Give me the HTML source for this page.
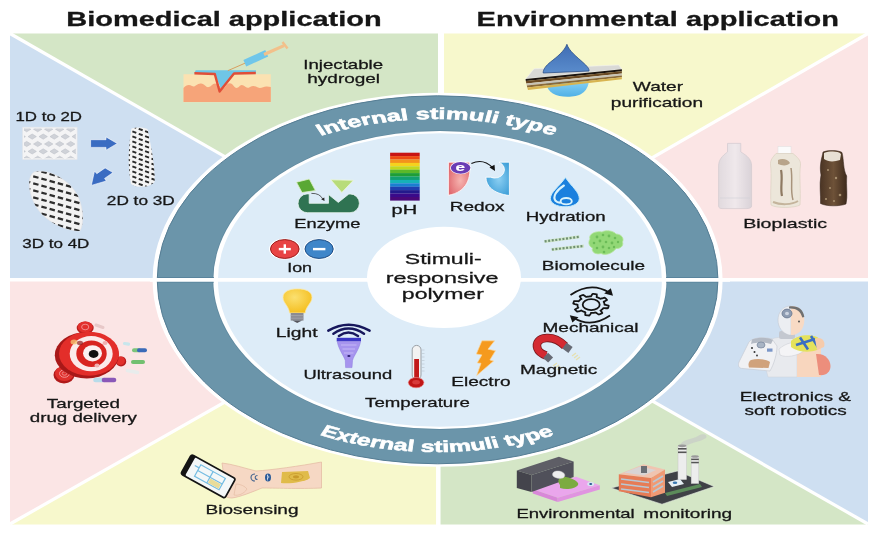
<!DOCTYPE html>
<html><head><meta charset="utf-8">
<style>
html,body{margin:0;padding:0;background:#fff;width:880px;height:533px;overflow:hidden}
svg{display:block;will-change:transform}
text{font-family:"Liberation Sans",sans-serif;fill:#161616;stroke:#161616;stroke-width:0.28}
.b{font-weight:bold}
</style></head>
<body>
<svg width="880" height="533" viewBox="0 0 880 533">
<rect x="0" y="0" width="880" height="533" fill="#fff"/>
<!-- panels -->
<g id="panels">
<polygon points="10,33.5 440,33.5 440,280" fill="#d4e6c6"/>
<polygon points="440,33.5 868,33.5 440,280" fill="#f7f8cc"/>
<polygon points="10,33.5 440,280 10,280" fill="#cedff1"/>
<polygon points="868,33.5 868,280 440,280" fill="#fbe5e5"/>
<polygon points="10,280 440,280 10,524.5" fill="#fbe5e5"/>
<polygon points="868,280 868,524.5 440,280" fill="#cedff1"/>
<polygon points="10,524.5 440,280 440,524.5" fill="#f7f8cc"/>
<polygon points="440,280 868,524.5 440,524.5" fill="#d4e6c6"/>
</g>
<g stroke="#fff" stroke-width="3.2">
<line x1="10" y1="33.5" x2="440" y2="280"/>
<line x1="868" y1="33.5" x2="440" y2="280"/>
<line x1="10" y1="524" x2="440" y2="280"/>
<line x1="868" y1="524" x2="440" y2="280"/>
<line x1="0" y1="279.8" x2="880" y2="279.8" stroke-width="3.6"/>
<line x1="441" y1="30" x2="441" y2="280" stroke-width="6"/>
<line x1="438.3" y1="280" x2="438.3" y2="530" stroke-width="4.5"/>
</g>
<!-- ring -->
<ellipse cx="437.6" cy="279.8" rx="285" ry="187" fill="#fff"/>
<ellipse cx="437.6" cy="279.8" rx="280.4" ry="184" fill="#6b95aa" stroke="#557d94" stroke-width="1"/>
<ellipse cx="439.9" cy="280" rx="227.4" ry="149.7" fill="#5f889e"/>
<ellipse cx="439.9" cy="280" rx="226.6" ry="149.1" fill="#fff"/>
<ellipse cx="439.9" cy="280" rx="222" ry="146.8" fill="#ddecf8"/>
<g stroke="#56809a" stroke-width="0.9"><line x1="158" y1="277.6" x2="214" y2="277.6"/><line x1="158" y1="282" x2="214" y2="282"/><line x1="666" y1="277.6" x2="718" y2="277.6"/><line x1="666" y1="282" x2="718" y2="282"/></g>
<line x1="150" y1="279.8" x2="730" y2="279.8" stroke="#fff" stroke-width="3.8"/>
<ellipse cx="444" cy="277.4" rx="77" ry="50.6" fill="#fff"/>
<!-- ICONS -->
<g id="enzyme">
<path d="M307,193.9 L309.2,193.9 L309.2,203.3 L328.5,203.3 L328.5,194.5 L338.3,202.4 L348.6,194.2 L350,193.9 A9.4,9.4 0 0 1 350,212.7 L307.8,212.7 A9.4,9.4 0 0 1 307,193.9 Z" fill="#2f7352" stroke="#e8f4ee" stroke-width="0.8"/>
<polygon points="296.5,182.2 309.3,179 315.4,190.6 302,192.5" fill="#5aa834" stroke="#dff0c8" stroke-width="0.8"/>
<polygon points="330.8,179.8 353.4,180.3 341.8,192.5" fill="#b8dc7a" stroke="#eef6dc" stroke-width="0.8"/>
<path d="M311.4,193.4 Q320,193 323,199.5" fill="none" stroke="#222" stroke-width="0.7"/>
<polygon points="321.2,199.3 324.5,201 324.3,197.6" fill="#222"/>
</g>
<g id="ph">
<rect x="390.1" y="152.7" width="29.6" height="3.5" fill="#c81414"/>
<rect x="390.1" y="156.1" width="29.6" height="3.5" fill="#ee4a12"/>
<rect x="390.1" y="159.5" width="29.6" height="3.5" fill="#f3921c"/>
<rect x="390.1" y="162.9" width="29.6" height="3.5" fill="#f5d21e"/>
<rect x="390.1" y="166.3" width="29.6" height="3.5" fill="#c2d81e"/>
<rect x="390.1" y="169.7" width="29.6" height="3.5" fill="#5cb82a"/>
<rect x="390.1" y="173.1" width="29.6" height="3.5" fill="#1f9e36"/>
<rect x="390.1" y="176.5" width="29.6" height="3.5" fill="#12a070"/>
<rect x="390.1" y="179.9" width="29.6" height="3.5" fill="#16b2b8"/>
<rect x="390.1" y="183.3" width="29.6" height="3.5" fill="#1a7fd0"/>
<rect x="390.1" y="186.7" width="29.6" height="3.5" fill="#1e40b0"/>
<rect x="390.1" y="190.1" width="29.6" height="3.5" fill="#231a8c"/>
<rect x="390.1" y="193.5" width="29.6" height="3.6" fill="#3a0a8a"/>
<rect x="390.1" y="197" width="29.6" height="3.6" fill="#4a0878"/>
</g>
<g id="ion">
<ellipse cx="284.8" cy="249" rx="15.8" ry="10.6" fill="#fff"/>
<ellipse cx="284.8" cy="249" rx="14.3" ry="9.4" fill="#e84444" stroke="#9a1c1c" stroke-width="1"/>
<rect x="278.8" y="247.9" width="12" height="2.4" fill="#fff"/>
<rect x="283.6" y="244.3" width="2.4" height="9.4" fill="#fff"/>
<ellipse cx="319.1" cy="249" rx="15.6" ry="10.6" fill="#fff"/>
<ellipse cx="319.1" cy="249" rx="14.1" ry="9.4" fill="#3f86c9" stroke="#1d4c84" stroke-width="1"/>
<rect x="313" y="247.9" width="12.4" height="2.4" fill="#fff"/>
</g>
<g id="redox">
<defs>
<radialGradient id="gRed" cx="0.55" cy="0.55" r="0.6"><stop offset="0" stop-color="#f6b4b0"/><stop offset="1" stop-color="#e06a70"/></radialGradient>
<radialGradient id="gBlue" cx="0.55" cy="0.5" r="0.6"><stop offset="0" stop-color="#8ccff2"/><stop offset="1" stop-color="#3e9fd8"/></radialGradient>
</defs>
<path d="M448.4,162.2 L469.5,162.2 C471.5,178 467,192 448.4,195.3 Z" fill="url(#gRed)" stroke="#fff" stroke-width="0.8"/>
<ellipse cx="460.6" cy="167.8" rx="10.6" ry="6.4" fill="#fff"/>
<ellipse cx="460.6" cy="167.8" rx="9.8" ry="5.9" fill="#6a3cb4"/>
<text x="455.6" y="171.4" font-size="11" class="b" style="fill:#fff;stroke:#fff;stroke-width:0.2" textLength="9.5" lengthAdjust="spacingAndGlyphs">e</text>
<path d="M471.4,163.6 Q483,158 492.5,167.5" fill="none" stroke="#111" stroke-width="1.1"/>
<polygon points="489.5,167.5 495,171 494.5,164.8" fill="#111"/>
<path d="M499,162.2 L509.4,162.2 L509.4,195.5 C493,193.5 486,186 486,177.2 L490.5,177.2 A7,6 0 0 0 499,162.2 Z" fill="url(#gBlue)" stroke="#fff" stroke-width="0.8"/>
</g>
<g id="hydration">
<path d="M565.4,177.5 C572,187 579.3,192 579.3,198.5 C579.3,203.5 573,206.8 565,206.8 C557,206.8 550.4,203.5 550.4,198.5 C550.4,192 559,187 565.4,177.5 Z" fill="#1a80de" stroke="#c8ecfa" stroke-width="1"/>
<path d="M563.9,185.5 C556,190.5 552.5,197 555.5,200.8 C557,202.3 559,202.8 560.5,202.5" fill="none" stroke="#d8f2fc" stroke-width="2.1" stroke-linecap="round"/>
<ellipse cx="566.2" cy="201.2" rx="5.6" ry="3.2" fill="none" stroke="#d8f2fc" stroke-width="1.9"/>
</g>
<g id="biomolecule">
<line x1="544.6" y1="241.4" x2="579.4" y2="236.8" stroke="#cfe6c8" stroke-width="3"/>
<line x1="544.6" y1="241.4" x2="579.4" y2="236.8" stroke="#6f8f72" stroke-width="2.2" stroke-dasharray="2,1.6"/>
<line x1="551.8" y1="249.5" x2="584" y2="246" stroke="#cfe6c8" stroke-width="3"/>
<line x1="551.8" y1="249.5" x2="584" y2="246" stroke="#6f8f72" stroke-width="2.2" stroke-dasharray="2,1.6"/>
<path d="M590,239 C588,234 596,230.5 602,232 C606,229.5 614,231 616,234 C621,234 624.5,238 622.5,242 C624,246 620,249 616,248.5 C613,253 606,256 601,253.5 C596,255 591,252 592.5,248 C588.5,246 588,242 590,239 Z" fill="#92d876" stroke="#b8e6a0" stroke-width="0.8"/>
<g fill="#6cbc58">
<circle cx="597" cy="237" r="1.4"/><circle cx="603" cy="235" r="1.3"/><circle cx="609" cy="236" r="1.4"/><circle cx="615" cy="238" r="1.3"/>
<circle cx="594" cy="243" r="1.3"/><circle cx="600" cy="241" r="1.4"/><circle cx="606" cy="242" r="1.3"/><circle cx="612" cy="243" r="1.4"/><circle cx="618" cy="242" r="1.2"/>
<circle cx="597" cy="248" r="1.3"/><circle cx="603" cy="247" r="1.4"/><circle cx="609" cy="248" r="1.3"/><circle cx="614" cy="247" r="1.2"/><circle cx="604" cy="252" r="1.3"/>
</g>
</g>
<g id="light">
<defs><radialGradient id="gBulb" cx="0.4" cy="0.35" r="0.7"><stop offset="0" stop-color="#fbe070"/><stop offset="1" stop-color="#f4bd1c"/></radialGradient></defs>
<path d="M289.5,313 C289,306 283,303 283,297.5 C283,291.5 289,288.9 297.5,288.9 C306,288.9 312,291.5 312,297.5 C312,303 306,306 305.2,313 Z" fill="url(#gBulb)" stroke="#fbe9a8" stroke-width="0.8"/>
<rect x="290.7" y="313" width="12.8" height="7.6" fill="#8c8c92"/>
<line x1="290.7" y1="315.6" x2="303.5" y2="315.6" stroke="#b0b0b8" stroke-width="0.6"/>
<line x1="290.7" y1="318.2" x2="303.5" y2="318.2" stroke="#b0b0b8" stroke-width="0.6"/>
<polygon points="292.5,320.6 302,320.6 297.2,323" fill="#55555c"/>
</g>
<g id="ultrasound" fill="none" stroke="#17175c" stroke-width="2.5" stroke-linecap="round">
<path d="M328.3,330.7 Q348.4,319 369.6,330.7"/>
<path d="M333.4,333.7 Q348.4,323.5 364,333.7"/>
<path d="M338.9,335.9 Q348.4,329 358,335.9"/>
</g>
<g id="probe">
<rect x="336.7" y="337.8" width="24.3" height="3.6" fill="#3a36c4"/>
<path d="M337.2,341.4 L360.6,341.4 C359,350 354,355 352.5,360.5 L352,367.6 L345.6,367.6 L345.3,360.5 C343.5,355 338.8,350 337.2,341.4 Z" fill="#a694ee" stroke="#8a78de" stroke-width="0.5"/>
<path d="M341,345 L356.5,345 M342.5,349 L355,349 M344,353 L353.5,353" stroke="#c4b8f6" stroke-width="1"/>
<ellipse cx="348.9" cy="356" rx="1.6" ry="1.1" fill="#2a2070"/>
</g>
<g id="thermo">
<rect x="412.2" y="345.4" width="8.8" height="34" rx="4.4" fill="#f2f2f2" stroke="#9aa0a6" stroke-width="1"/>
<rect x="414.2" y="359" width="4.8" height="20" fill="#c21a1a"/>
<ellipse cx="416.1" cy="382.6" rx="7.8" ry="5.2" fill="#c01616" stroke="#e88" stroke-width="0.6"/>
<ellipse cx="416.1" cy="382.2" rx="3.8" ry="2.2" fill="#d83a3a"/>
<g stroke="#b8c4cc" stroke-width="0.6">
<line x1="421.5" y1="350" x2="424.5" y2="350"/><line x1="421.5" y1="353.5" x2="424.5" y2="353.5"/><line x1="421.5" y1="357" x2="424.5" y2="357"/><line x1="421.5" y1="360.5" x2="424.5" y2="360.5"/><line x1="421.5" y1="364" x2="424.5" y2="364"/><line x1="421.5" y1="367.5" x2="424.5" y2="367.5"/><line x1="421.5" y1="371" x2="424.5" y2="371"/>
</g>
</g>
<g id="electro">
<polygon points="481.9,340.8 494.6,340.8 488,349.2 495.5,350.7 489.9,360 493.6,361 476.7,375.5 481,363.3 477.2,362.9 481.9,354.9 476.3,354" fill="#f59a1e" stroke="#fbd9a0" stroke-width="0.7"/>
</g>
<g id="magnet">
<path d="M565,346 C558,339 551,337.5 546,338 C539,338.5 535.5,343 537.5,348.5 C538.5,351.5 542,354 546,355.5" fill="none" stroke="#7a1a1f" stroke-width="8.5"/>
<path d="M565,346 C558,339 551,337.5 546,338 C539,338.5 535.5,343 537.5,348.5 C538.5,351.5 542,354 546,355.5" fill="none" stroke="#d42a32" stroke-width="6.8"/>
<line x1="564.5" y1="345.6" x2="570.5" y2="350" stroke="#666a74" stroke-width="7.2"/>
<line x1="545.6" y1="355.3" x2="550.6" y2="360" stroke="#666a74" stroke-width="7.2"/>
<g stroke="#e6e0b0" stroke-width="1.3">
<line x1="572" y1="356" x2="576" y2="353"/><line x1="574" y1="358" x2="578" y2="355"/><line x1="576" y1="360" x2="580" y2="357"/>
<line x1="553" y1="366" x2="557" y2="363"/><line x1="555" y1="368" x2="559" y2="365"/><line x1="557" y1="370" x2="561" y2="367"/>
</g>
</g>
<g id="mech" fill="none" stroke="#151515" stroke-width="1.8">
<path d="M608.45,306.87 L608.39,307.03 L608.33,307.20 L608.26,307.37 L608.19,307.53 L608.11,307.70 L608.03,307.86 L607.95,308.02 L607.86,308.19 L607.28,308.24 L606.52,308.25 L605.77,308.24 L605.01,308.21 L604.27,308.18 L603.53,308.12 L603.26,308.20 L603.17,308.31 L603.08,308.43 L602.98,308.55 L602.88,308.66 L602.78,308.77 L602.67,308.89 L602.56,309.00 L602.45,309.11 L602.34,309.22 L602.22,309.33 L602.10,309.43 L601.98,309.54 L601.85,309.65 L601.72,309.75 L601.59,309.85 L601.46,309.95 L601.32,310.05 L601.19,310.15 L601.04,310.25 L600.90,310.35 L600.75,310.44 L600.61,310.53 L600.82,310.85 L601.15,311.26 L601.46,311.68 L601.75,312.11 L602.03,312.54 L602.28,312.98 L602.19,313.18 L601.97,313.28 L601.75,313.39 L601.52,313.49 L601.30,313.59 L601.07,313.69 L600.84,313.79 L600.60,313.88 L600.36,313.97 L600.13,314.06 L599.88,314.15 L599.64,314.23 L599.40,314.31 L599.15,314.39 L598.90,314.47 L598.42,314.25 L597.88,313.93 L597.36,313.59 L596.85,313.25 L596.37,312.90 L595.90,312.55 L595.64,312.48 L595.44,312.53 L595.23,312.57 L595.03,312.61 L594.83,312.65 L594.62,312.68 L594.42,312.72 L594.21,312.75 L594.01,312.78 L593.80,312.80 L593.59,312.83 L593.38,312.85 L593.17,312.88 L592.96,312.90 L592.75,312.91 L592.54,312.93 L592.33,312.94 L592.12,312.96 L591.91,312.97 L591.69,312.97 L591.48,312.98 L591.27,312.98 L591.06,312.98 L590.84,313.30 L590.60,313.74 L590.34,314.17 L590.05,314.59 L589.75,315.02 L589.42,315.44 L589.12,315.54 L588.84,315.52 L588.57,315.50 L588.29,315.47 L588.01,315.45 L587.74,315.42 L587.46,315.38 L587.19,315.35 L586.92,315.31 L586.65,315.27 L586.38,315.23 L586.11,315.18 L585.84,315.13 L585.57,315.08 L585.31,315.03 L585.22,314.67 L585.21,314.20 L585.23,313.74 L585.26,313.28 L585.32,312.82 L585.41,312.37 L585.29,312.21 L585.10,312.15 L584.91,312.10 L584.72,312.04 L584.53,311.98 L584.35,311.91 L584.16,311.85 L583.98,311.78 L583.80,311.71 L583.62,311.64 L583.44,311.57 L583.27,311.50 L583.09,311.42 L582.92,311.35 L582.75,311.27 L582.59,311.19 L582.42,311.11 L582.26,311.02 L582.10,310.94 L581.94,310.85 L581.78,310.76 L581.63,310.67 L581.47,310.58 L580.95,310.71 L580.28,310.92 L579.60,311.11 L578.90,311.29 L578.20,311.45 L577.48,311.61 L577.16,311.55 L576.98,311.42 L576.81,311.28 L576.64,311.14 L576.48,311.00 L576.32,310.86 L576.16,310.72 L576.01,310.58 L575.86,310.43 L575.72,310.29 L575.58,310.14 L575.44,309.99 L575.30,309.84 L575.17,309.69 L575.05,309.54 L575.40,309.25 L575.93,308.91 L576.48,308.59 L577.03,308.28 L577.61,307.99 L578.19,307.70 L578.29,307.54 L578.22,307.42 L578.15,307.29 L578.09,307.17 L578.03,307.04 L577.97,306.92 L577.91,306.79 L577.86,306.67 L577.81,306.54 L577.76,306.41 L577.72,306.29 L577.68,306.16 L577.65,306.03 L577.62,305.90 L577.59,305.77 L577.56,305.64 L577.54,305.51 L577.52,305.38 L577.50,305.25 L577.49,305.13 L577.48,305.00 L577.47,304.86 L577.47,304.73 L576.95,304.60 L576.24,304.45 L575.54,304.29 L574.84,304.12 L574.15,303.93 L573.46,303.73 L573.30,303.55 L573.33,303.38 L573.37,303.21 L573.41,303.04 L573.45,302.87 L573.50,302.70 L573.55,302.53 L573.61,302.37 L573.67,302.20 L573.74,302.03 L573.81,301.87 L573.89,301.70 L573.97,301.54 L574.05,301.38 L574.14,301.21 L574.72,301.16 L575.48,301.15 L576.23,301.16 L576.99,301.19 L577.73,301.22 L578.47,301.28 L578.74,301.20 L578.83,301.09 L578.92,300.97 L579.02,300.85 L579.12,300.74 L579.22,300.63 L579.33,300.51 L579.44,300.40 L579.55,300.29 L579.66,300.18 L579.78,300.07 L579.90,299.97 L580.02,299.86 L580.15,299.75 L580.28,299.65 L580.41,299.55 L580.54,299.45 L580.68,299.35 L580.81,299.25 L580.96,299.15 L581.10,299.05 L581.25,298.96 L581.39,298.87 L581.18,298.55 L580.85,298.14 L580.54,297.72 L580.25,297.29 L579.97,296.86 L579.72,296.42 L579.81,296.22 L580.03,296.12 L580.25,296.01 L580.48,295.91 L580.70,295.81 L580.93,295.71 L581.16,295.61 L581.40,295.52 L581.64,295.43 L581.87,295.34 L582.12,295.25 L582.36,295.17 L582.60,295.09 L582.85,295.01 L583.10,294.93 L583.58,295.15 L584.12,295.47 L584.64,295.81 L585.15,296.15 L585.63,296.50 L586.10,296.85 L586.36,296.92 L586.56,296.87 L586.77,296.83 L586.97,296.79 L587.17,296.75 L587.38,296.72 L587.58,296.68 L587.79,296.65 L587.99,296.62 L588.20,296.60 L588.41,296.57 L588.62,296.55 L588.83,296.52 L589.04,296.50 L589.25,296.49 L589.46,296.47 L589.67,296.46 L589.88,296.44 L590.09,296.43 L590.31,296.43 L590.52,296.42 L590.73,296.42 L590.94,296.42 L591.16,296.10 L591.40,295.66 L591.66,295.23 L591.95,294.81 L592.25,294.38 L592.58,293.96 L592.88,293.86 L593.16,293.88 L593.43,293.90 L593.71,293.93 L593.99,293.95 L594.26,293.98 L594.54,294.02 L594.81,294.05 L595.08,294.09 L595.35,294.13 L595.62,294.17 L595.89,294.22 L596.16,294.27 L596.43,294.32 L596.69,294.37 L596.78,294.73 L596.79,295.20 L596.77,295.66 L596.74,296.12 L596.68,296.58 L596.59,297.03 L596.71,297.19 L596.90,297.25 L597.09,297.30 L597.28,297.36 L597.47,297.42 L597.65,297.49 L597.84,297.55 L598.02,297.62 L598.20,297.69 L598.38,297.76 L598.56,297.83 L598.73,297.90 L598.91,297.98 L599.08,298.05 L599.25,298.13 L599.41,298.21 L599.58,298.29 L599.74,298.38 L599.90,298.46 L600.06,298.55 L600.22,298.64 L600.37,298.73 L600.53,298.82 L601.05,298.69 L601.72,298.48 L602.40,298.29 L603.10,298.11 L603.80,297.95 L604.52,297.79 L604.84,297.85 L605.02,297.98 L605.19,298.12 L605.36,298.26 L605.52,298.40 L605.68,298.54 L605.84,298.68 L605.99,298.82 L606.14,298.97 L606.28,299.11 L606.42,299.26 L606.56,299.41 L606.70,299.56 L606.83,299.71 L606.95,299.86 L606.60,300.15 L606.07,300.49 L605.52,300.81 L604.97,301.12 L604.39,301.41 L603.81,301.70 L603.71,301.86 L603.78,301.98 L603.85,302.11 L603.91,302.23 L603.97,302.36 L604.03,302.48 L604.09,302.61 L604.14,302.73 L604.19,302.86 L604.24,302.99 L604.28,303.11 L604.32,303.24 L604.35,303.37 L604.38,303.50 L604.41,303.63 L604.44,303.76 L604.46,303.89 L604.48,304.02 L604.50,304.15 L604.51,304.27 L604.52,304.40 L604.53,304.54 L604.53,304.67 L605.05,304.80 L605.76,304.95 L606.46,305.11 L607.16,305.28 L607.85,305.47 L608.54,305.67 L608.70,305.85 L608.67,306.02 L608.63,306.19 L608.59,306.36 L608.55,306.53 L608.50,306.70 Z"/>
<ellipse cx="591.2" cy="304.7" rx="8.5" ry="5.5"/>
<path d="M570.5,295 Q591,281 609.5,292.8"/>
<path d="M610,315.5 Q591,328.5 573.5,317.8"/>
</g>
<polygon points="604.2,293.6 613,295.8 610.8,288.2" fill="#151515"/>
<polygon points="578.5,317.2 569.8,315.2 572.4,322.4" fill="#151515"/>
<!-- OUTER ICONS -->
<g id="hydrogel">
<rect x="183.5" y="74.2" width="87.3" height="28" fill="#fbe2b2"/>
<path d="M183.5,88 C186,85 189,84 192,86 C195,88 197,83 201,83.5 C205,84 206,88 209,87 C212,86 213,82 217,84 C220,86 222,90 225,87 C227,84 229,82 232,84 C234,86 235,89 238,87.5 C240,86 241,84 243.5,85.5 C246,87 247,89 250,87 C253,85 255,86 258,87.5 C261,89 264,86 267,86.5 L270.8,87 L270.8,102.1 L183.5,102.1 Z" fill="#f6a479"/>
<path d="M195.7,70.3 L256,70.3 L255.8,73 L234,73.5 L221,88.5 L214.8,74 L194.4,73.2 Z" fill="#6fc6e6"/>
<path d="M194.4,73.2 L214.8,74 L219.6,91.5 L234,73.5 L255.8,73" fill="none" stroke="#e04e38" stroke-width="2.4" stroke-linejoin="round"/>
<line x1="227.8" y1="70.7" x2="245" y2="63.2" stroke="#d8a060" stroke-width="1"/>
<line x1="244.8" y1="63.2" x2="266.7" y2="53.3" stroke="#6fc6ea" stroke-width="7"/>
<line x1="264" y1="54.5" x2="284" y2="45.6" stroke="#f2c08a" stroke-width="3.2"/>
<line x1="282.5" y1="42" x2="287.5" y2="48.5" stroke="#f2c08a" stroke-width="2.5"/>
</g>
<g id="mesh">
<rect x="22.7" y="127.2" width="54.4" height="32.3" fill="#f4f4f5" stroke="#e4e6ea" stroke-width="0.6"/>
<clipPath id="clipMesh"><rect x="24" y="128.5" width="51.8" height="29.7"/></clipPath>
<g clip-path="url(#clipMesh)" fill="#cfd2d8" stroke="#b8bcc4" stroke-width="0.5">
<path d="M17.0,121.8 L21.2,119.2 L25.4,121.8 L21.2,124.4 Z"/>
<path d="M28.0,121.8 L32.2,119.2 L36.4,121.8 L32.2,124.4 Z"/>
<path d="M39.0,121.8 L43.2,119.2 L47.4,121.8 L43.2,124.4 Z"/>
<path d="M50.0,121.8 L54.2,119.2 L58.4,121.8 L54.2,124.4 Z"/>
<path d="M61.0,121.8 L65.2,119.2 L69.4,121.8 L65.2,124.4 Z"/>
<path d="M72.0,121.8 L76.2,119.2 L80.4,121.8 L76.2,124.4 Z"/>
<path d="M83.0,121.8 L87.2,119.2 L91.4,121.8 L87.2,124.4 Z"/>
<path d="M94.0,121.8 L98.2,119.2 L102.4,121.8 L98.2,124.4 Z"/>
<path d="M11.5,129.2 L15.7,126.6 L19.9,129.2 L15.7,131.8 Z"/>
<path d="M22.5,129.2 L26.7,126.6 L30.9,129.2 L26.7,131.8 Z"/>
<path d="M33.5,129.2 L37.7,126.6 L41.9,129.2 L37.7,131.8 Z"/>
<path d="M44.5,129.2 L48.7,126.6 L52.9,129.2 L48.7,131.8 Z"/>
<path d="M55.5,129.2 L59.7,126.6 L63.9,129.2 L59.7,131.8 Z"/>
<path d="M66.5,129.2 L70.7,126.6 L74.9,129.2 L70.7,131.8 Z"/>
<path d="M77.5,129.2 L81.7,126.6 L85.9,129.2 L81.7,131.8 Z"/>
<path d="M88.5,129.2 L92.7,126.6 L96.9,129.2 L92.7,131.8 Z"/>
<path d="M17.0,136.6 L21.2,134.0 L25.4,136.6 L21.2,139.2 Z"/>
<path d="M28.0,136.6 L32.2,134.0 L36.4,136.6 L32.2,139.2 Z"/>
<path d="M39.0,136.6 L43.2,134.0 L47.4,136.6 L43.2,139.2 Z"/>
<path d="M50.0,136.6 L54.2,134.0 L58.4,136.6 L54.2,139.2 Z"/>
<path d="M61.0,136.6 L65.2,134.0 L69.4,136.6 L65.2,139.2 Z"/>
<path d="M72.0,136.6 L76.2,134.0 L80.4,136.6 L76.2,139.2 Z"/>
<path d="M83.0,136.6 L87.2,134.0 L91.4,136.6 L87.2,139.2 Z"/>
<path d="M94.0,136.6 L98.2,134.0 L102.4,136.6 L98.2,139.2 Z"/>
<path d="M11.5,144.0 L15.7,141.4 L19.9,144.0 L15.7,146.6 Z"/>
<path d="M22.5,144.0 L26.7,141.4 L30.9,144.0 L26.7,146.6 Z"/>
<path d="M33.5,144.0 L37.7,141.4 L41.9,144.0 L37.7,146.6 Z"/>
<path d="M44.5,144.0 L48.7,141.4 L52.9,144.0 L48.7,146.6 Z"/>
<path d="M55.5,144.0 L59.7,141.4 L63.9,144.0 L59.7,146.6 Z"/>
<path d="M66.5,144.0 L70.7,141.4 L74.9,144.0 L70.7,146.6 Z"/>
<path d="M77.5,144.0 L81.7,141.4 L85.9,144.0 L81.7,146.6 Z"/>
<path d="M88.5,144.0 L92.7,141.4 L96.9,144.0 L92.7,146.6 Z"/>
<path d="M17.0,151.4 L21.2,148.8 L25.4,151.4 L21.2,154.0 Z"/>
<path d="M28.0,151.4 L32.2,148.8 L36.4,151.4 L32.2,154.0 Z"/>
<path d="M39.0,151.4 L43.2,148.8 L47.4,151.4 L43.2,154.0 Z"/>
<path d="M50.0,151.4 L54.2,148.8 L58.4,151.4 L54.2,154.0 Z"/>
<path d="M61.0,151.4 L65.2,148.8 L69.4,151.4 L65.2,154.0 Z"/>
<path d="M72.0,151.4 L76.2,148.8 L80.4,151.4 L76.2,154.0 Z"/>
<path d="M83.0,151.4 L87.2,148.8 L91.4,151.4 L87.2,154.0 Z"/>
<path d="M94.0,151.4 L98.2,148.8 L102.4,151.4 L98.2,154.0 Z"/>
<path d="M11.5,158.8 L15.7,156.2 L19.9,158.8 L15.7,161.4 Z"/>
<path d="M22.5,158.8 L26.7,156.2 L30.9,158.8 L26.7,161.4 Z"/>
<path d="M33.5,158.8 L37.7,156.2 L41.9,158.8 L37.7,161.4 Z"/>
<path d="M44.5,158.8 L48.7,156.2 L52.9,158.8 L48.7,161.4 Z"/>
<path d="M55.5,158.8 L59.7,156.2 L63.9,158.8 L59.7,161.4 Z"/>
<path d="M66.5,158.8 L70.7,156.2 L74.9,158.8 L70.7,161.4 Z"/>
<path d="M77.5,158.8 L81.7,156.2 L85.9,158.8 L81.7,161.4 Z"/>
<path d="M88.5,158.8 L92.7,156.2 L96.9,158.8 L92.7,161.4 Z"/>
<path d="M17.0,166.2 L21.2,163.6 L25.4,166.2 L21.2,168.8 Z"/>
<path d="M28.0,166.2 L32.2,163.6 L36.4,166.2 L32.2,168.8 Z"/>
<path d="M39.0,166.2 L43.2,163.6 L47.4,166.2 L43.2,168.8 Z"/>
<path d="M50.0,166.2 L54.2,163.6 L58.4,166.2 L54.2,168.8 Z"/>
<path d="M61.0,166.2 L65.2,163.6 L69.4,166.2 L65.2,168.8 Z"/>
<path d="M72.0,166.2 L76.2,163.6 L80.4,166.2 L76.2,168.8 Z"/>
<path d="M83.0,166.2 L87.2,163.6 L91.4,166.2 L87.2,168.8 Z"/>
<path d="M94.0,166.2 L98.2,163.6 L102.4,166.2 L98.2,168.8 Z"/>
</g>
</g>
<g id="arrows" fill="#3a6cc2" stroke="#fff" stroke-width="0.6">
<polygon points="90.6,139.7 106,139.7 106,136.9 117.3,143.5 106,150.2 106,147.4 90.6,147.4"/>
<polygon points="113,172.6 104.6,178.4 106.3,181 91.3,185.4 94.5,171 96.8,173.7 105.1,167.9"/>
</g>
<g id="tube">
<clipPath id="clipTube"><path d="M131.5,128.4 C137,127 144,127 147.5,129 C152,150 155,168 154.6,182 C150,187.5 137,188.5 131,184 C128,168 127.8,150 131.5,128.4 Z"/></clipPath>
<path d="M131.5,128.4 C137,127 144,127 147.5,129 C152,150 155,168 154.6,182 C150,187.5 137,188.5 131,184 C128,168 127.8,150 131.5,128.4 Z" fill="#f4f4f4"/>
<g clip-path="url(#clipTube)" stroke="#2a2a2a" stroke-width="1.9" stroke-dasharray="4.2,2.6">
<line x1="126" y1="124.0" x2="158" y2="136.0"/>
<line x1="126" y1="129.0" x2="158" y2="141.0"/>
<line x1="126" y1="134.0" x2="158" y2="146.0"/>
<line x1="126" y1="139.0" x2="158" y2="151.0"/>
<line x1="126" y1="144.0" x2="158" y2="156.0"/>
<line x1="126" y1="149.0" x2="158" y2="161.0"/>
<line x1="126" y1="154.0" x2="158" y2="166.0"/>
<line x1="126" y1="159.0" x2="158" y2="171.0"/>
<line x1="126" y1="164.0" x2="158" y2="176.0"/>
<line x1="126" y1="169.0" x2="158" y2="181.0"/>
<line x1="126" y1="174.0" x2="158" y2="186.0"/>
<line x1="126" y1="179.0" x2="158" y2="191.0"/>
<line x1="126" y1="184.0" x2="158" y2="196.0"/>
</g>
</g>
<g id="spiral">
<clipPath id="clipSpiral"><path d="M34,172 C48,168 70,180 78,196 C84,210 84,224 80,231 C66,231 46,222 37,208 C29,196 26,177 34,172 Z"/></clipPath>
<path d="M34,172 C48,168 70,180 78,196 C84,210 84,224 80,231 C66,231 46,222 37,208 C29,196 26,177 34,172 Z" fill="#f2f2f2" stroke="#e0e0e4" stroke-width="0.6"/>
<g clip-path="url(#clipSpiral)" stroke="#2e2e2e" stroke-width="2.3" stroke-dasharray="5.5,3">
<line x1="25" y1="160.0" x2="90" y2="178.0"/>
<line x1="25" y1="167.0" x2="90" y2="185.0"/>
<line x1="25" y1="174.0" x2="90" y2="192.0"/>
<line x1="25" y1="181.0" x2="90" y2="199.0"/>
<line x1="25" y1="188.0" x2="90" y2="206.0"/>
<line x1="25" y1="195.0" x2="90" y2="213.0"/>
<line x1="25" y1="202.0" x2="90" y2="220.0"/>
<line x1="25" y1="209.0" x2="90" y2="227.0"/>
<line x1="25" y1="216.0" x2="90" y2="234.0"/>
<line x1="25" y1="223.0" x2="90" y2="241.0"/>
<line x1="25" y1="230.0" x2="90" y2="248.0"/>
</g>
</g>
<g id="water">
<defs>
<linearGradient id="gDropTop" x1="0" y1="0" x2="0" y2="1"><stop offset="0" stop-color="#3f6db4"/><stop offset="1" stop-color="#5a8ccc"/></linearGradient>
<linearGradient id="gDropBot" x1="0" y1="0" x2="0" y2="1"><stop offset="0" stop-color="#8ad4f6"/><stop offset="1" stop-color="#4fb0e6"/></linearGradient>
</defs>
<path d="M546,82 C547,93 556,96.8 567.5,96.8 C579,96.8 588,93 589,80 Z" fill="url(#gDropBot)"/>
<polygon points="525.6,79 534,68.8 618.8,64.9 621.9,69.3" fill="#d9d9d6" stroke="#f4f4f0" stroke-width="0.6"/>
<path d="M566.9,44.3 C569,51 577,57 583,62.5 C587,66 589.5,69 589,71 L543.2,73 C543,69.5 546,65.5 550.5,62 C557,57 564.5,51 566.9,44.3 Z" fill="url(#gDropTop)" stroke="#2c4f86" stroke-width="0.8"/>
<polygon points="525.6,79 621.9,69.3 621.9,71.2 525.8,81" fill="#1b1410"/>
<polygon points="525.8,81 621.9,71.2 621.9,73.6 526.3,83.5" fill="#6b4a24"/>
<polygon points="526.3,83.5 621.9,73.6 621.9,75.6 526.8,85.6" fill="#c8c2b6"/>
<polygon points="526.8,85.6 621.9,75.6 621.9,77.3 527.3,87.4" fill="#8a6a3a"/>
<polygon points="527.3,87.4 621.9,77.3 621.9,79.3 528,89.9" fill="#d8b450"/>
</g>
<g id="bioplastic">
<defs>
<linearGradient id="gBottle" x1="0" y1="0" x2="1" y2="0"><stop offset="0" stop-color="#d8d6dc"/><stop offset="0.5" stop-color="#eceaee"/><stop offset="1" stop-color="#cfcdd4"/></linearGradient>
<linearGradient id="gBrown" x1="0" y1="0" x2="1" y2="0"><stop offset="0" stop-color="#4a3424"/><stop offset="0.5" stop-color="#6e5238"/><stop offset="1" stop-color="#3e2a1c"/></linearGradient>
</defs>
<path d="M727.5,143.4 L740.8,143.4 L740.8,152 C748,156 751.6,160 751.6,166 L751.6,206 C751.6,208 749,208.6 746,208.6 L723,208.6 C720,208.6 718.6,208 718.6,206 L718.6,166 C718.6,160 722,156 727.5,152 Z" fill="url(#gBottle)" stroke="#c4c2c8" stroke-width="0.7" opacity="0.75"/>
<line x1="720" y1="198" x2="750" y2="198" stroke="#d0d0d6" stroke-width="0.6"/>
<rect x="778" y="146.5" width="13" height="7" fill="#fbfbfb" stroke="#ddd" stroke-width="0.5"/>
<path d="M776,153.5 L793,153.5 C797,157 801,160 800.5,165 C799,175 801,190 800,205 C795,208 776,208.5 771,205 C770,190 772,175 770.5,165 C770,160 773,157 776,153.5 Z" fill="#ece6da" stroke="#d8cebc" stroke-width="0.6"/>
<path d="M778,160 C782,158 788,159 790,163 C788,166 782,166 778,164 Z" fill="#b8a48a"/>
<path d="M781,170 C783,178 780,188 782,196" stroke="#8e7a62" stroke-width="2.2" fill="none"/>
<path d="M791,168 C793,180 790,190 793,200" stroke="#a8947c" stroke-width="1.5" fill="none"/>
<path d="M773,202 C780,205 792,205 798,201" stroke="#c4b49c" stroke-width="2" fill="none"/>
<path d="M823,152 C828,150 838,150 842,152.5 C844,160 843,170 846.7,176 C846,186 848,196 846,204 C840,206.5 826,206.5 820.5,203.5 C821,195 819,185 821,175 C819,165 822,158 823,152 Z" fill="url(#gBrown)" stroke="#2e2016" stroke-width="0.5"/>
<path d="M824,153 C830,151 838,151 841,154 L840,160 C834,162 828,162 824,159 Z" fill="#e8e0d4"/>
<g fill="#a89070"><circle cx="828" cy="170" r="1"/><circle cx="836" cy="178" r="1.2"/><circle cx="830" cy="188" r="1"/><circle cx="840" cy="195" r="1.3"/><circle cx="826" cy="199" r="1.1"/><circle cx="834" cy="201" r="1"/></g>
</g>
<g id="drug">
<ellipse cx="85.2" cy="328" rx="8.5" ry="6.5" fill="#b81c1c"/>
<ellipse cx="85.2" cy="327" rx="7.5" ry="5.5" fill="#e2302c"/>
<ellipse cx="85.2" cy="327" rx="3.6" ry="2.8" fill="none" stroke="#f4a0a0" stroke-width="0.8"/>
<ellipse cx="64" cy="375" rx="10.5" ry="8.5" fill="#b01a1a"/>
<ellipse cx="64.5" cy="373.5" rx="9.5" ry="7.5" fill="#e0302c"/>
<ellipse cx="64.5" cy="373.5" rx="5" ry="3.8" fill="none" stroke="#f4a8a8" stroke-width="0.8"/>
<ellipse cx="64.5" cy="373.5" rx="2.3" ry="1.7" fill="none" stroke="#f4a8a8" stroke-width="0.7"/>
<ellipse cx="121" cy="361.4" rx="5.2" ry="5" fill="#b81c1c"/>
<ellipse cx="120.5" cy="360.8" rx="4.4" ry="4.2" fill="#e2302c"/>
<ellipse cx="86.8" cy="355.2" rx="32" ry="23.2" fill="#a81818"/>
<ellipse cx="89" cy="353.7" rx="30" ry="22" fill="#e32e2a"/>
<ellipse cx="91.2" cy="353.7" rx="21.5" ry="17.6" fill="#fbeaea"/>
<ellipse cx="91.5" cy="353.7" rx="15.2" ry="13.2" fill="#d82420"/>
<ellipse cx="92.5" cy="353.3" rx="9.5" ry="8.1" fill="#fbf0f0"/>
<ellipse cx="93.6" cy="354" rx="4.9" ry="3.9" fill="#111"/>
<ellipse cx="74" cy="342" rx="3.5" ry="2.5" fill="#f2c070" opacity="0.8"/>
<ellipse cx="80" cy="343" rx="3" ry="2.2" fill="#902020" opacity="0.7"/>
<ellipse cx="105" cy="343" rx="2.5" ry="2" fill="#f0b0b0"/>
<ellipse cx="97" cy="365.5" rx="2.5" ry="2" fill="#f0b0b0"/>
<g stroke-linecap="round">
<line x1="96" y1="325" x2="103" y2="327.5" stroke="#e8c8c8" stroke-width="3"/>
<line x1="124.5" y1="343.5" x2="128.5" y2="344.2" stroke="#c8e6ec" stroke-width="3.2"/>
<line x1="134" y1="350.2" x2="139" y2="350.2" stroke="#7cc47a" stroke-width="4"/>
<line x1="139" y1="350.2" x2="145" y2="350.2" stroke="#3a6ab8" stroke-width="4"/>
<line x1="133" y1="362.1" x2="143" y2="362.1" stroke="#72c070" stroke-width="4"/>
<line x1="127.5" y1="370.5" x2="137.5" y2="372.5" stroke="#e8ecec" stroke-width="3.6"/>
<line x1="95.5" y1="380" x2="104" y2="380" stroke="#b8dcea" stroke-width="4.6"/>
<line x1="104" y1="380" x2="114" y2="380" stroke="#8a58b8" stroke-width="4.6"/>
</g>
</g>
<g id="robot">
<path d="M766,346 C766,339 774,337 788,337 L797,337 L797,377 L768,377 C765,366 765,356 766,346 Z" fill="#e8eaee" stroke="#cdd1d8" stroke-width="0.5"/>
<path d="M797,337 L806,337 C816,337 821,341 821,349 L821,377 L797,377 Z" fill="#f8d6be"/>
<path d="M816,354 C825,353 830.5,360 830.5,366 C830.5,372 826,376 819,375 Z" fill="#ec8e7c"/>
<rect x="779" y="331" width="16" height="8" rx="2" fill="#c4c8d0"/>
<path d="M791,306 C783,306 778,312 778,320 C778,327 782,333 789,335 L791,335 Z" fill="#eceef2" stroke="#c0c4cc" stroke-width="0.5"/>
<path d="M791,306 C799.5,306 804.3,312 804.3,320 C804.3,328 800,334 793,335 L791,335 Z" fill="#f8dac4"/>
<path d="M789,306.5 C797,305 803.5,309 804.3,317 L802.3,317.5 C800.5,311 796,308 789,308.5 Z" fill="#707070"/>
<ellipse cx="787" cy="313.5" rx="5" ry="4.4" fill="#8e9cb2" stroke="#64748c" stroke-width="0.8"/>
<ellipse cx="787" cy="313.5" rx="2" ry="1.7" fill="#ccd4e0"/>
<circle cx="799" cy="321.5" r="0.9" fill="#444"/>
<path d="M772,339 C762,336.5 752,338 749,342 L739,362 C737.5,366 739,368.5 743,368.5 L770,371 C774,364 777,354 777,346 Z" fill="#f0f1f4" stroke="#c4c8d0" stroke-width="0.6"/>
<path d="M752,339.5 C758,337 768,337 773,340 L771,344 C765,342 757,342 751,344 Z" fill="#b4bac4"/>
<path d="M751,360 C757,358 766,359 770,362 L768.5,368 L749,367.5 C748,364 748.5,361.5 751,360 Z" fill="#d0a27c"/>
<ellipse cx="761" cy="345" rx="4" ry="3" fill="#a8b4c4" stroke="#74829a" stroke-width="0.7"/>
<circle cx="752" cy="348" r="1" fill="#333"/><circle cx="754.5" cy="352" r="1" fill="#333"/><circle cx="757" cy="355.5" r="0.9" fill="#333"/>
<rect x="767" y="348.5" width="5.5" height="3.2" fill="#7a96c8"/>
<path d="M779,349 C786,343 794,341 800,344 L804,351 C797,356 786,358 780,355 Z" fill="#f4f4f6" stroke="#c8cad0" stroke-width="0.5"/>
<path d="M791,341 C797,335 809,334 817,337 C822,340 823,347 817,350 C809,353 797,352 791,347 Z" fill="#e4e25c"/>
<g stroke="#3a6ec4" stroke-width="2.6"><line x1="800" y1="337.5" x2="808" y2="349.5"/><line x1="796" y1="345" x2="815" y2="339"/><line x1="811" y1="336" x2="818" y2="347"/></g>
<path d="M815,339 C821,336 826,341 824,347 L817,350 Z" fill="#f6cbac"/>
</g>
<g id="biosensing">
<path d="M222,463 C232,464 244,468 256,471 C272,470 300,466 321.5,462 L321.5,488 C300,489 272,488 262,488 C252,492 240,497 232,498 C226,498 222,495 224,492 C219,492 216,488 219,485 C215,484 213,480 217,477 L223,470 Z" fill="#f6d8c4" stroke="#e2b8a0" stroke-width="0.7"/>
<g transform="translate(208.2,476.3) rotate(29)">
<rect x="-26" y="-12" width="52" height="24" rx="3" fill="#141414"/>
<rect x="-20.5" y="-10.3" width="44.8" height="20.6" rx="1.2" fill="#f4f7f8"/>
<g stroke="#74bce2" stroke-width="1.2" fill="none"><rect x="-12" y="-6.5" width="28" height="13"/><line x1="2" y1="-6.5" x2="2" y2="6.5"/><line x1="-12" y1="0" x2="16" y2="0"/><line x1="-17" y1="-3" x2="-12" y2="-3"/></g>
<rect x="3" y="0.8" width="12" height="5" fill="#e8dc9a"/>
</g>
<path d="M236,484 C240,484 245,486 247,489 C244,494 238,496 234,495 Z" fill="#f6d8c4" stroke="#e2b8a0" stroke-width="0.6"/>
<path d="M255,474 A4,3.5 0 0 0 255,481" fill="none" stroke="#4a6890" stroke-width="1.2"/>
<path d="M257.5,475.5 A2.3,2 0 0 0 257.5,479.5" fill="none" stroke="#4a6890" stroke-width="1.1"/>
<ellipse cx="268" cy="477.5" rx="3" ry="4" fill="#2a5a98"/>
<path d="M267.2,475 L269.2,477 L267.2,479 M267.5,474.5 L267.5,480.5" stroke="#fff" stroke-width="0.6" fill="none"/>
<path d="M282,472 L308,471 L310,478 C305,482 290,484 281,483 Z" fill="#e0bb4a"/>
<ellipse cx="296" cy="476.8" rx="7" ry="3.3" fill="none" stroke="#c89a2c" stroke-width="0.8"/>
<ellipse cx="296" cy="476.8" rx="3" ry="1.6" fill="#c89a2c"/>
</g>
<g id="envmon">
<polygon points="532.7,489.2 576,476.7 599.8,485.2 557.7,497.7" fill="#eaa6ec"/>
<polygon points="532.7,489.2 557.7,497.7 557.7,502 532.7,493.5" fill="#d888d8"/>
<polygon points="557.7,497.7 599.8,485.2 599.8,489.5 557.7,502" fill="#e094e0"/>
<polygon points="516.8,470.5 558.9,456.8 573.6,461.4 531.5,475" fill="#5e5e66"/>
<polygon points="516.8,470.5 531.5,475 531.5,492 516.8,488" fill="#44444c"/>
<polygon points="531.5,475 573.6,461.4 573.6,477 531.5,492" fill="#50505a"/>
<path d="M560,485 C556,480 560,476 566,477 C572,478 580,482 578,485 C575,489 566,490 560,488 Z" fill="#7cab40"/>
<path d="M553,476 C551,472 556,470 561,471.5 C565,473 566,476 563,478 C559,479 555,478 553,476 Z" fill="#eeeeee" stroke="#ccc" stroke-width="0.5"/>
<ellipse cx="590.7" cy="484" rx="3.5" ry="2" fill="#d8eaf4"/>
<ellipse cx="590.7" cy="484" rx="1.5" ry="1" fill="#2a5a90"/>
</g>
<g id="factory">
<polygon points="611.2,488 677.3,471 714.2,486.5 662,504.2" fill="#3f4146" stroke="#e8eee4" stroke-width="0.6"/>
<path d="M680,445 C684,438 692,440 698,436 C702,433 708,434 706,438 C700,442 692,442 686,446 Z" fill="#c8cac8" opacity="0.7"/>
<rect x="678" y="445.8" width="8.5" height="33.8" fill="#ededed" stroke="#c8c8c8" stroke-width="0.5"/>
<ellipse cx="682.2" cy="445.8" rx="4.2" ry="1.4" fill="#9a9a9a"/>
<rect x="678" y="448" width="8.5" height="1.6" fill="#555"/><rect x="678" y="451.5" width="8.5" height="1.6" fill="#555"/>
<rect x="691.2" y="456.5" width="7.6" height="27" fill="#ededed" stroke="#c8c8c8" stroke-width="0.5"/>
<ellipse cx="695" cy="456.5" rx="3.8" ry="1.3" fill="#9a9a9a"/>
<rect x="691.2" y="458.6" width="7.6" height="1.5" fill="#555"/><rect x="691.2" y="461.8" width="7.6" height="1.5" fill="#555"/>
<polygon points="668,482 680,479 684,484 672,487" fill="#e6eef4"/>
<ellipse cx="675" cy="482.8" rx="2.3" ry="1.2" fill="#3a78b0"/>
<polygon points="665,493 700,484 702,487 667,496" fill="#5c8c5a"/>
<polygon points="618.8,474.2 643.5,464.2 665,469.6 651,478" fill="#f0c4b0"/>
<polygon points="618.8,474.2 651,478 651,497.3 618.8,491.2" fill="#e67c56"/>
<polygon points="651,478 665,469.6 665,492.7 651,497.3" fill="#f09a74"/>
<g stroke="#b8c8d4" stroke-width="1.6">
<line x1="621" y1="479" x2="649" y2="482.5"/><line x1="621" y1="484" x2="649" y2="487.5"/><line x1="621" y1="489" x2="649" y2="492.5"/>
<line x1="653" y1="482" x2="663" y2="476"/><line x1="653" y1="487" x2="663" y2="481"/><line x1="653" y1="492" x2="663" y2="486"/>
</g>
<polygon points="624,472.5 640,466.5 656,470 644,475.5" fill="#d8d4d4"/>
<rect x="641" y="466" width="6" height="7" fill="#6a6e74"/>
</g>
<!-- titles -->
<text class="b" x="66.3" y="26.1" font-size="19.5" textLength="315.4" lengthAdjust="spacingAndGlyphs">Biomedical application</text>
<text class="b" x="476.6" y="26" font-size="19.5" textLength="362.4" lengthAdjust="spacingAndGlyphs">Environmental application</text>
<text x="303.3" y="69.3" font-size="13.5" textLength="79.8" lengthAdjust="spacingAndGlyphs">Injectable</text>
<text x="307.3" y="82.6" font-size="13.5" textLength="72.8" lengthAdjust="spacingAndGlyphs">hydrogel</text>
<text x="15.5" y="121.3" font-size="13" textLength="66.5" lengthAdjust="spacingAndGlyphs">1D to 2D</text>
<text x="106.8" y="205.3" font-size="13" textLength="68.0" lengthAdjust="spacingAndGlyphs">2D to 3D</text>
<text x="22.3" y="247.8" font-size="13" textLength="67.1" lengthAdjust="spacingAndGlyphs">3D to 4D</text>
<text x="632.8" y="91.3" font-size="13.5" textLength="50.3" lengthAdjust="spacingAndGlyphs">Water</text>
<text x="610.8" y="106.8" font-size="13.5" textLength="92.3" lengthAdjust="spacingAndGlyphs">purification</text>
<text x="743.2" y="228.1" font-size="13.5" textLength="83.9" lengthAdjust="spacingAndGlyphs">Bioplastic</text>
<text x="739.8" y="400.8" font-size="13.5" textLength="111.3" lengthAdjust="spacingAndGlyphs">Electronics &amp;</text>
<text x="744.5" y="414.8" font-size="13.5" textLength="102.1" lengthAdjust="spacingAndGlyphs">soft robotics</text>
<text x="516.5" y="518.0" font-size="13.5" textLength="118.2" lengthAdjust="spacingAndGlyphs">Environmental</text>
<text x="643.3" y="518.0" font-size="13.5" textLength="88.8" lengthAdjust="spacingAndGlyphs">monitoring</text>
<text x="205.5" y="513.6" font-size="13.5" textLength="93.0" lengthAdjust="spacingAndGlyphs">Biosensing</text>
<text x="46.8" y="408.3" font-size="13.5" textLength="73.1" lengthAdjust="spacingAndGlyphs">Targeted</text>
<text x="29.8" y="422.3" font-size="13.5" textLength="107.1" lengthAdjust="spacingAndGlyphs">drug delivery</text>
<text x="294.3" y="228.1" font-size="13.5" textLength="66.1" lengthAdjust="spacingAndGlyphs">Enzyme</text>
<text x="391.5" y="214.2" font-size="13" textLength="25.6" lengthAdjust="spacingAndGlyphs">pH</text>
<text x="287.2" y="272.0" font-size="13" textLength="24.9" lengthAdjust="spacingAndGlyphs">Ion</text>
<text x="404.8" y="264.3" font-size="15.5" textLength="76.8" lengthAdjust="spacingAndGlyphs">Stimuli-</text>
<text x="385.8" y="282.8" font-size="15.5" textLength="112.7" lengthAdjust="spacingAndGlyphs">responsive</text>
<text x="401.8" y="299.2" font-size="15.5" textLength="82.1" lengthAdjust="spacingAndGlyphs">polymer</text>
<text x="449.8" y="210.9" font-size="13" textLength="54.8" lengthAdjust="spacingAndGlyphs">Redox</text>
<text x="525.8" y="221.3" font-size="13" textLength="79.9" lengthAdjust="spacingAndGlyphs">Hydration</text>
<text x="541.8" y="270.3" font-size="13.5" textLength="103.3" lengthAdjust="spacingAndGlyphs">Biomolecule</text>
<text x="275.8" y="337.1" font-size="13.5" textLength="41.7" lengthAdjust="spacingAndGlyphs">Light</text>
<text x="303.4" y="379.1" font-size="13.5" textLength="88.9" lengthAdjust="spacingAndGlyphs">Ultrasound</text>
<text x="365.1" y="406.6" font-size="13.5" textLength="104.7" lengthAdjust="spacingAndGlyphs">Temperature</text>
<text x="542.5" y="332.3" font-size="13" textLength="96.1" lengthAdjust="spacingAndGlyphs">Mechanical</text>
<text x="520.0" y="374.3" font-size="13.5" textLength="77.3" lengthAdjust="spacingAndGlyphs">Magnetic</text>
<text x="451.3" y="385.6" font-size="13" textLength="59.3" lengthAdjust="spacingAndGlyphs">Electro</text>
<!-- ring text -->
<defs>
<path id="arcTop" d="M -182,301 A 182 182 0 0 1 182,301"/>
<path id="arcBot" d="M -183,269 A 183 183 0 0 0 183,269"/>
</defs>
<g transform="translate(437,0) scale(1.52,1)">
<text class="b" font-size="16" style="fill:#fff;stroke:#fff;stroke-width:0.55"><textPath href="#arcTop" startOffset="50%" text-anchor="middle" textLength="158" lengthAdjust="spacingAndGlyphs">Internal stimuli type</textPath></text>
<text class="b" font-size="16" style="fill:#fff;stroke:#fff;stroke-width:0.55"><textPath href="#arcBot" startOffset="50%" text-anchor="middle" textLength="160" lengthAdjust="spacingAndGlyphs">External stimuli type</textPath></text>
</g>
</svg>
</body></html>
